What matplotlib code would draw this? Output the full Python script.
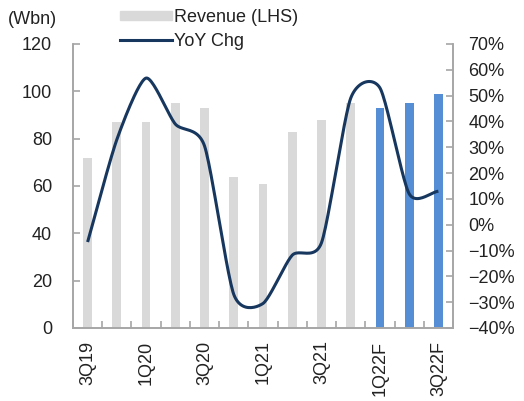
import numpy as np
import matplotlib.pyplot as plt
from matplotlib.patches import Patch
from matplotlib.lines import Line2D

plt.rcParams['font.family'] = ['Liberation Sans', 'DejaVu Sans']

quarters = ['3Q19', '4Q19', '1Q20', '2Q20', '3Q20', '4Q20', '1Q21', '2Q21',
            '3Q21', '4Q21', '1Q22F', '2Q22F', '3Q22F']
revenue = [72, 87, 87, 95, 93, 64, 61, 83, 88, 95, 93, 95, 99]
yoy = [-6.7, 33, 56.8, 39, 30.5, -27, -30.5, -11.8, -7, 49, 53, 12, 13]
forecast = [False] * 10 + [True] * 3

gray = '#D9D9D9'
blue = '#558ED5'
navy = '#17375E'
spine_c = '#A6A6A6'
txt_c = '#222222'


def smooth(x, y, k=0.7, n=24):
    # cardinal spline through the points (excel-like smoothed line)
    x = np.asarray(x, float)
    y = np.asarray(y, float)
    px = np.concatenate([[2 * x[0] - x[1]], x, [2 * x[-1] - x[-2]]])
    py = np.concatenate([[2 * y[0] - y[1]], y, [2 * y[-1] - y[-2]]])
    xs, ys = [], []
    t = np.linspace(0, 1, n, endpoint=False)
    h00 = 2 * t ** 3 - 3 * t ** 2 + 1
    h10 = t ** 3 - 2 * t ** 2 + t
    h01 = -2 * t ** 3 + 3 * t ** 2
    h11 = t ** 3 - t ** 2
    for i in range(1, len(px) - 2):
        for p, out in ((px, xs), (py, ys)):
            m1 = k * (p[i + 1] - p[i - 1]) / 2
            m2 = k * (p[i + 2] - p[i]) / 2
            out.extend(h00 * p[i] + h10 * m1 + h01 * p[i + 1] + h11 * m2)
    xs.append(x[-1])
    ys.append(y[-1])
    return np.array(xs), np.array(ys)


fig = plt.figure(figsize=(5.24, 4.01), dpi=100)
ax = fig.add_axes([73 / 524, 73 / 401, 380 / 524, 284 / 401])
ax2 = ax.twinx()

x = np.arange(len(quarters))
colors = [blue if f else gray for f in forecast]
ax.bar(x, revenue, width=0.3, color=colors, zorder=1)

sx, sy = smooth(x, yoy)
ax2.plot(sx, sy, color=navy, lw=2.2, zorder=3, solid_capstyle='butt')

ax.set_xlim(-0.5, len(quarters) - 0.5)
ax.set_ylim(0, 120)
ax.set_yticks(range(0, 121, 20))
ax2.set_ylim(-40, 70)
ax2.set_yticks(range(-40, 71, 10))
ax2.set_yticklabels([('\u2212' + str(-v) if v < 0 else str(v)) + '%'
                     for v in range(-40, 71, 10)])

ax.set_xticks(np.arange(-0.5, len(quarters), 1))
ax.set_xticklabels([])
ax.set_xticks(x[::2], minor=True)
ax.set_xticklabels(quarters[::2], minor=True, rotation=90)
ax.tick_params(axis='x', which='minor', length=0, pad=9, labelsize=13, colors=txt_c)
ax.tick_params(axis='x', which='major', length=5, direction='in', color=spine_c, width=1.2)

ax.tick_params(axis='y', length=5, direction='in', color=spine_c, width=1.2,
               labelsize=13, labelcolor=txt_c, pad=15)
ax2.tick_params(axis='y', length=5, direction='in', color=spine_c, width=1.2,
                labelsize=13, labelcolor=txt_c, pad=11)

for a in (ax, ax2):
    a.spines['top'].set_visible(False)
    for s in ('left', 'right', 'bottom'):
        a.spines[s].set_color(spine_c)
        a.spines[s].set_linewidth(1.2)

fig.text(8 / 524, 1 - 19 / 401, '(Wbn)', fontsize=13, va='center', color=txt_c)

handles = [Patch(color=gray), Line2D([0], [0], color=navy, lw=2.2)]
fig.legend(handles, ['Revenue (LHS)', 'YoY Chg'], loc='upper left',
           bbox_to_anchor=(120 / 524, 1 - 9 / 401), frameon=False, fontsize=13,
           handlelength=2.9, handleheight=0.45, handletextpad=0.1, labelspacing=0.38,
           borderpad=0, borderaxespad=0, labelcolor=txt_c)

fig.savefig('out.png', dpi=100)
